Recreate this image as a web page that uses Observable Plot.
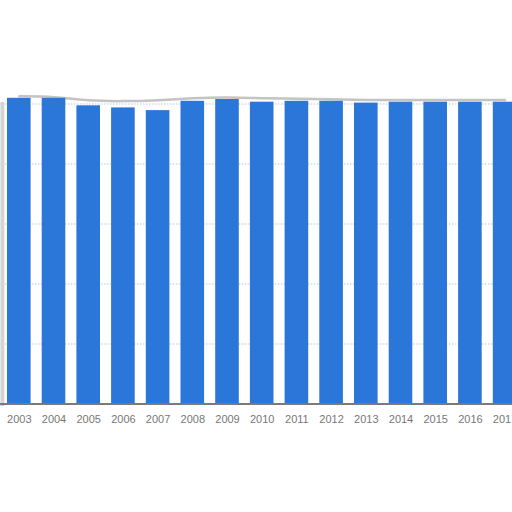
<!DOCTYPE html>
<html>
<head>
<meta charset="utf-8">
<script src="https://cdn.jsdelivr.net/npm/d3@7"></script>
<script src="https://cdn.jsdelivr.net/npm/@observablehq/plot@0.6"></script>
<style>
  html, body { margin: 0; padding: 0; background: #fff; overflow: hidden; }
  #chart { width: 512px; height: 512px; overflow: hidden; }
  #chart svg { max-width: none !important; }
</style>
</head>
<body>
<div id="chart"></div>
<script>
const years = ["2003","2004","2005","2006","2007","2008","2009","2010","2011","2012","2013","2014","2015","2016","2017"];
const values = [101.9, 101.9, 99.4, 98.7, 97.8, 100.9, 101.5, 100.6, 100.9, 100.9, 100.3, 100.6, 100.6, 100.6, 100.6];
// faint grey rim running above the bar tops
const rim = [102.6, 102.5, 101.0, 100.9, 101.2, 102.0, 102.3, 101.9, 101.8, 101.6, 101.3, 101.3, 101.3, 101.3, 101.3];
const gridTicks = [20, 40, 60, 80, 100];

const data = years.map((year, i) => ({year, value: values[i], rim: rim[i]}));

const chart = Plot.plot({
  width: 512,
  height: 512,
  marginTop: 103.5,
  marginBottom: 108.5,
  marginLeft: -4.1,
  marginRight: -15.5,
  style: {background: "#fff", fontFamily: "'Liberation Sans', Arial, sans-serif", overflow: "hidden"},
  x: {domain: years, padding: 0.32, round: false},
  y: {domain: [0, 100], axis: null},
  marks: [
    Plot.gridY(gridTicks, {stroke: "#b5c6d8", strokeOpacity: 1, strokeDasharray: "1.5,1.5"}),
    Plot.frame({anchor: "left", stroke: "#d4d4d4", strokeWidth: 4, dx: 6}),
    Plot.lineY(data, {x: "year", y: "rim", curve: "basis", stroke: "#bdbdbd", strokeWidth: 2.5, strokeOpacity: 0.9}),
    Plot.barY(data, {x: "year", y: "value", fill: "#2b76d9"}),
    Plot.ruleY([0], {stroke: "#7a7a7a", strokeWidth: 2}),
    Plot.axisX({tickSize: 0, tickPadding: 11, fontSize: 11, color: "#777", label: null})
  ]
});
document.getElementById("chart").append(chart);
</script>
</body>
</html>
